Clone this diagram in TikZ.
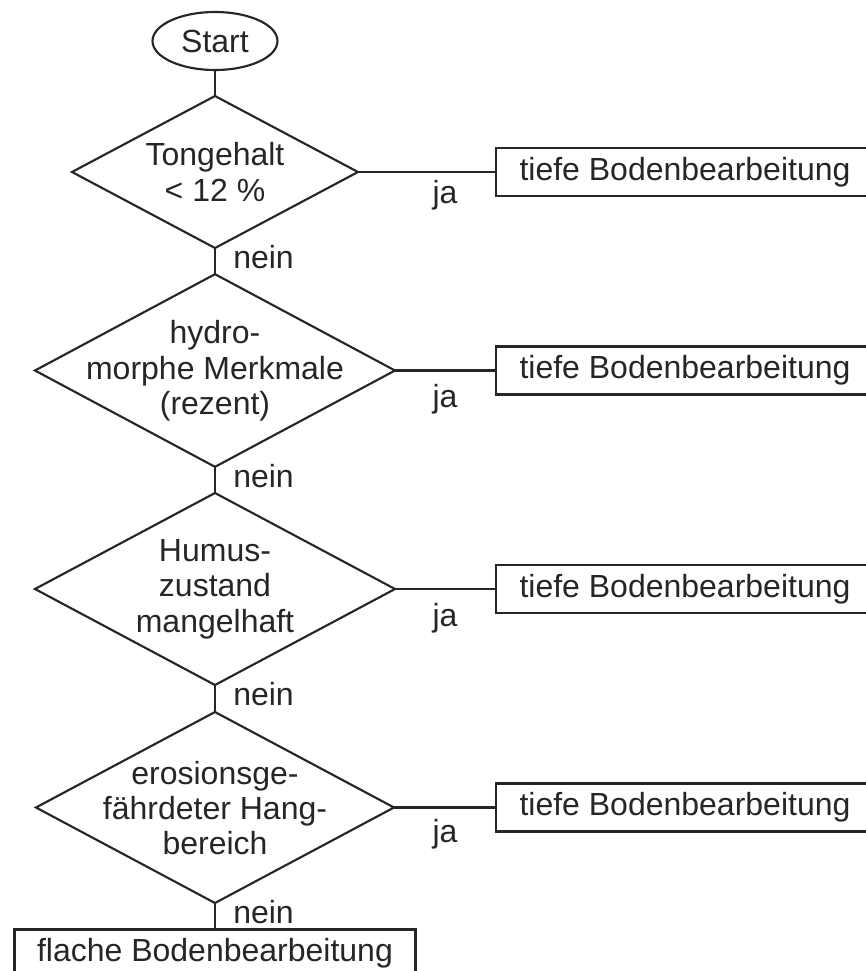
\documentclass[tikz,border=0pt]{standalone}
\usepackage{fontspec}
\setmainfont{Liberation Sans}
\usepackage{tikz}
\usetikzlibrary{shapes.geometric}

\newcommand{\schrift}{\fontsize{24pt}{26.5pt}\selectfont}

\tikzset{
  frage/.style={draw, shape=diamond, line width=1.6pt, inner sep=0pt, outer sep=0pt},
  fragetext/.style={inner sep=0pt, align=center, font=\schrift},
  kasten/.style={draw, line width=2.2pt, inner sep=0pt, outer sep=0pt, minimum height=36pt, font=\schrift},
  linie/.style={line width=1.6pt},
  marke/.style={inner sep=0pt, font=\schrift}
}

\begin{document}
\begin{tikzpicture}[x=0.75pt,y=0.75pt,yscale=-1,xscale=1,color=black!85]
\useasboundingbox (0,0) rectangle (866,971);
\clip (0,0) rectangle (866,971);

%Shape: Ellipse
\node [draw, shape=ellipse, line width=1.6pt, inner sep=0pt, outer sep=0pt, minimum width=93.75pt, minimum height=43.5pt, font=\schrift] (start) at (215,41) {Start};

%Shape: Diamond
\node [frage, minimum width=214.5pt, minimum height=114pt] (d1) at (215,172) {};
\node [frage, minimum width=270pt, minimum height=144.5pt] (d2) at (215,370.5) {};
\node [frage, minimum width=270pt, minimum height=144pt] (d3) at (215,589) {};
\node [frage, minimum width=268.5pt, minimum height=143.25pt] (d4) at (215,807.5) {};

% Text Node
\node [fragetext] (t1) at (215,172) {Tongehalt\\< 12 \%};
% Text Node
\node [fragetext] (t2) at (215,371) {hydro-\\morphe Merkmale\\(rezent)};
% Text Node
\node [fragetext] (t3) at (215,589) {Humus-\\zustand\\mangelhaft};
% Text Node
\node [fragetext] (t4) at (215,808) {erosionsge-\\fährdeter Hang-\\bereich};

%Shape: Rectangle
\node [kasten, minimum width=283.5pt] (b1) at (685,172) {tiefe Bodenbearbeitung};
\node [kasten, minimum width=283.5pt] (b2) at (685,370.5) {tiefe Bodenbearbeitung};
\node [kasten, minimum width=283.5pt] (b3) at (685,589) {tiefe Bodenbearbeitung};
\node [kasten, minimum width=283.5pt] (b4) at (685,807.5) {tiefe Bodenbearbeitung};
\node [kasten, minimum width=300.75pt] (b5) at (215,953.5) {flache Bodenbearbeitung};

%Straight Lines
\draw [linie] (start.south) -- (d1.north);
\draw [linie] (d1.south) -- (d2.north);
\draw [linie] (d2.south) -- (d3.north);
\draw [linie] (d3.south) -- (d4.north);
\draw [linie] (d4.south) -- (b5.north);
\draw [linie] (d1.east) -- (b1.west);
\draw [linie] (d2.east) -- (b2.west);
\draw [linie] (d3.east) -- (b3.west);
\draw [linie] (d4.east) -- (b4.west);

% Text Node
\node [marke, anchor=base] (ja1) at (445,203) {ja};
\node [marke, anchor=base] (ja2) at (445,407) {ja};
\node [marke, anchor=base] (ja3) at (445,626) {ja};
\node [marke, anchor=base] (ja4) at (445,842) {ja};
% Text Node
\node [marke, anchor=base west] (n1) at (233,268) {nein};
\node [marke, anchor=base west] (n2) at (233,487) {nein};
\node [marke, anchor=base west] (n3) at (233,705) {nein};
\node [marke, anchor=base west] (n4) at (233,923) {nein};

\end{tikzpicture}
\end{document}
